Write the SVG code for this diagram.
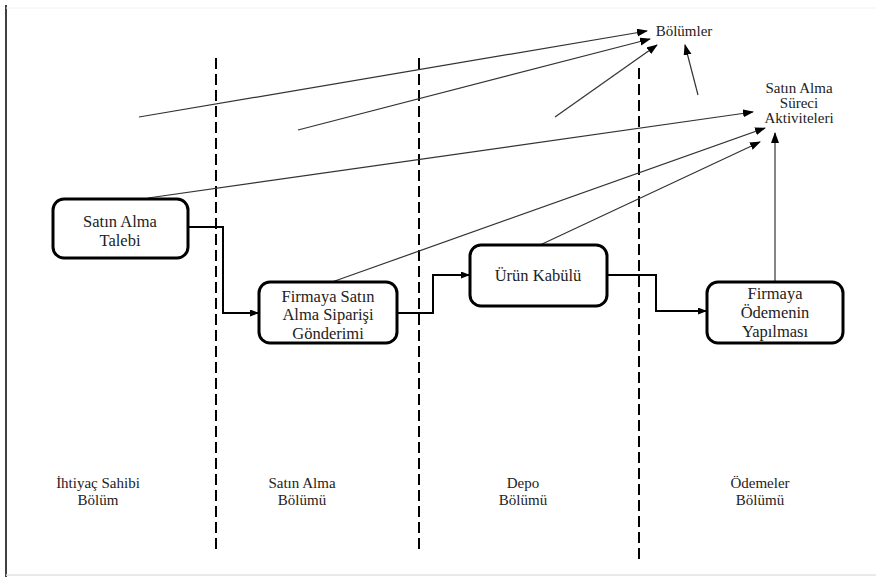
<svg xmlns="http://www.w3.org/2000/svg" width="876" height="578" viewBox="0 0 876 578">
<style>
text{font-family:"Liberation Serif","Times New Roman",serif;fill:#222;text-anchor:middle}
.bt{font-size:16.5px}
.lb{font-size:15px}
.box{fill:#fff;stroke:#000;stroke-width:3}
.lane{stroke:#000;stroke-width:2;stroke-dasharray:11 5;fill:none}
.thin{stroke:#333;stroke-width:1.2;fill:none;marker-end:url(#ah)}
.flow{stroke:#000;stroke-width:2;fill:none;marker-end:url(#af)}
</style>
<defs>
<marker id="ah" markerUnits="userSpaceOnUse" markerWidth="12" markerHeight="10" refX="10" refY="4" orient="auto">
<path d="M0,0 L11,4 L0,8 z" fill="#000"/>
</marker>
<marker id="af" markerUnits="userSpaceOnUse" markerWidth="10" markerHeight="8" refX="8" refY="3.5" orient="auto">
<path d="M0,0 L9,3.5 L0,7 z" fill="#000"/>
</marker>
</defs>
<rect width="876" height="578" fill="#fff"/>
<g id="frame">
<line x1="6" y1="5" x2="6" y2="577" stroke="#000" stroke-width="1.5"/>
<line x1="6" y1="575" x2="876" y2="575" stroke="#e2e2e2" stroke-width="1.5"/>
<line x1="6" y1="8" x2="876" y2="8" stroke="#f2f2f2" stroke-width="1"/>
</g>
<g id="lanes">
<line class="lane" x1="216" y1="58" x2="216" y2="549"/>
<line class="lane" x1="419" y1="58" x2="419" y2="549"/>
<line class="lane" x1="639" y1="68" x2="639" y2="559"/>
</g>
<g id="connectors">
<line class="thin" x1="139" y1="117" x2="647" y2="31"/>
<line class="thin" x1="298" y1="130" x2="650" y2="39"/>
<line class="thin" x1="555" y1="117" x2="657" y2="45"/>
<line class="thin" x1="698" y1="95" x2="685" y2="45"/>
<line class="thin" x1="148" y1="198" x2="753" y2="112"/>
<line class="thin" x1="332" y1="282" x2="765" y2="128"/>
<line class="thin" x1="540" y1="245" x2="760" y2="142"/>
<line class="thin" x1="775" y1="282" x2="775" y2="133"/>
<polyline class="flow" points="188,227 223,227 223,313 258,313"/>
<polyline class="flow" points="397,313 433,313 433,275 469,275"/>
<polyline class="flow" points="607,275 656,275 656,311 706,311"/>
</g>
<g id="n-bolumler"><text class="lb" x="684" y="36">Bölümler</text></g>
<g id="n-aktiviteler">
<text class="lb" x="799" y="93">Satın Alma</text>
<text class="lb" x="799" y="108">Süreci</text>
<text class="lb" x="799" y="123">Aktiviteleri</text>
</g>
<g id="n-talep">
<rect class="box" x="53" y="199" width="135" height="59" rx="11"/>
<text class="bt" x="120" y="227">Satın Alma</text>
<text class="bt" x="120" y="246">Talebi</text>
</g>
<g id="n-siparis">
<rect class="box" x="259" y="282" width="138" height="61" rx="11"/>
<text class="bt" x="328" y="302">Firmaya Satın</text>
<text class="bt" x="328" y="320">Alma Siparişi</text>
<text class="bt" x="328" y="339">Gönderimi</text>
</g>
<g id="n-kabul">
<rect class="box" x="470" y="245" width="137" height="61" rx="11"/>
<text class="bt" x="538" y="281">Ürün Kabülü</text>
</g>
<g id="n-odeme">
<rect class="box" x="707" y="282" width="136" height="61" rx="11"/>
<text class="bt" x="775" y="299">Firmaya</text>
<text class="bt" x="775" y="318">Ödemenin</text>
<text class="bt" x="775" y="337">Yapılması</text>
</g>
<g id="lane-labels">
<text class="lb" x="98" y="488">İhtiyaç Sahibi</text>
<text class="lb" x="98" y="505">Bölüm</text>
<text class="lb" x="302" y="488">Satın Alma</text>
<text class="lb" x="302" y="505">Bölümü</text>
<text class="lb" x="523" y="488">Depo</text>
<text class="lb" x="523" y="505">Bölümü</text>
<text class="lb" x="760" y="488">Ödemeler</text>
<text class="lb" x="760" y="505">Bölümü</text>
</g>
</svg>
